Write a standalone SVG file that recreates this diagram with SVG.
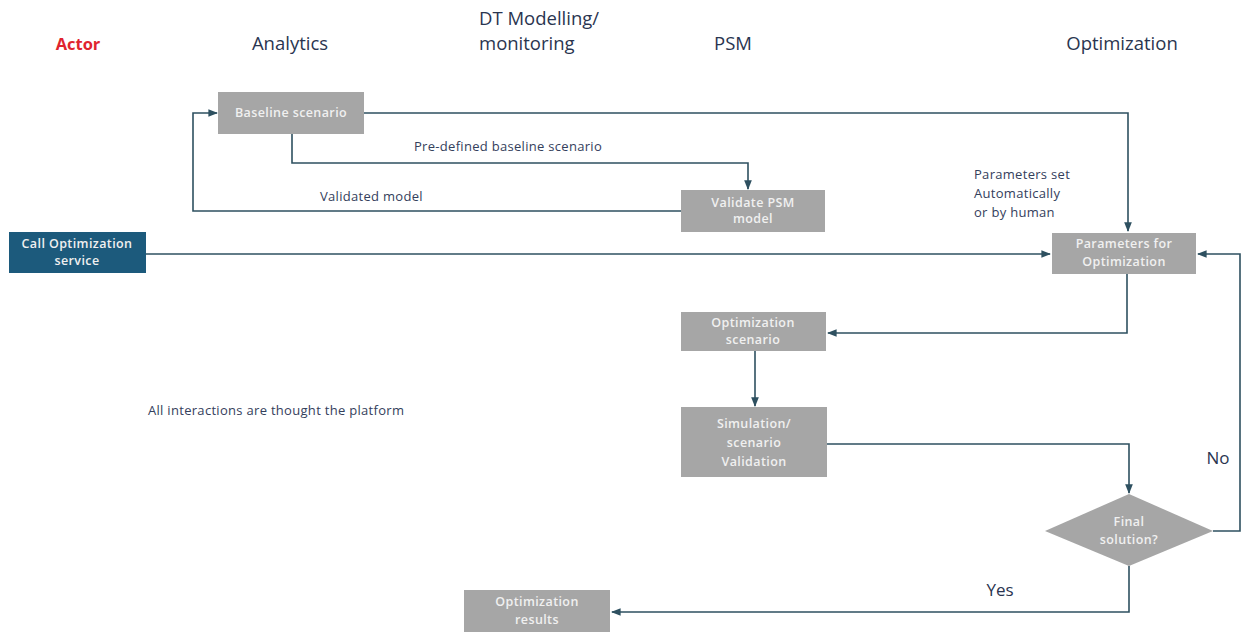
<svg xmlns="http://www.w3.org/2000/svg" width="1244" height="632" viewBox="0 0 1244 632">
  <style>
    .head { font-family: "Open Sans", "Liberation Sans", sans-serif; font-size: 18.5px; fill: #2a3550; }
    .actor { font-family: "Open Sans", "Liberation Sans", sans-serif; font-size: 16.5px; font-weight: bold; fill: #e0242e; }
    .box { fill: #a6a6a6; }
    .blue { fill: #1c5a7c; }
    .bt { font-family: "Open Sans", "Liberation Sans", sans-serif; font-size: 12.5px; font-weight: 600; letter-spacing: 0.4px; fill: #f0f0f0; text-anchor: middle; }
    .lbl { font-family: "Open Sans", "Liberation Sans", sans-serif; font-size: 13px; font-weight: 500; letter-spacing: 0.3px; fill: #34405c; }
    .yn { font-family: "Open Sans", "Liberation Sans", sans-serif; font-size: 17px; font-weight: 500; fill: #2a3550; }
    .conn { fill: none; stroke: #2e5060; stroke-width: 1.6; }
  </style>
  <defs>
    <marker id="arr" viewBox="0 0 10 10" refX="9" refY="5" markerWidth="6" markerHeight="6" orient="auto">
      <path d="M0,1 L10,5 L0,9 z" fill="#2e5060"/>
    </marker>
  </defs>
  <rect width="1244" height="632" fill="#ffffff"/>

  <!-- lane headings -->
  <g id="headings">
    <text class="actor" x="78" y="50" text-anchor="middle">Actor</text>
    <text class="head" x="290" y="50" text-anchor="middle">Analytics</text>
    <text class="head" x="479" y="25">DT Modelling/</text>
    <text class="head" x="479" y="50">monitoring</text>
    <text class="head" x="733" y="50" text-anchor="middle">PSM</text>
    <text class="head" x="1122" y="50" text-anchor="middle">Optimization</text>
  </g>

  <!-- connectors -->
  <g id="connectors">
    <polyline class="conn" points="364,113 1128,113 1128,231" marker-end="url(#arr)"/>
    <polyline class="conn" points="292,134 292,163 748,163 748,189" marker-end="url(#arr)"/>
    <polyline class="conn" points="681,211 193,211 193,113 217,113" marker-end="url(#arr)"/>
    <polyline class="conn" points="146,254 1050,254" marker-end="url(#arr)"/>
    <polyline class="conn" points="1127,274 1127,333 828,333" marker-end="url(#arr)"/>
    <polyline class="conn" points="755,351 755,406" marker-end="url(#arr)"/>
    <polyline class="conn" points="827,444 1129,444 1129,493" marker-end="url(#arr)"/>
    <polyline class="conn" points="1213,531 1240,531 1240,254 1198,254" marker-end="url(#arr)"/>
    <polyline class="conn" points="1129,566 1129,612 612,612" marker-end="url(#arr)"/>
    <text class="lbl" x="508" y="151" text-anchor="middle">Pre-defined baseline scenario</text>
    <text class="lbl" x="320" y="201">Validated model</text>
    <text class="lbl" x="974" y="179">Parameters set</text>
    <text class="lbl" x="974" y="198">Automatically</text>
    <text class="lbl" x="974" y="217">or by human</text>
    <text class="yn" x="1218" y="464" text-anchor="middle">No</text>
    <text class="yn" x="1000" y="596" text-anchor="middle">Yes</text>
  </g>

  <g id="baseline">
    <rect class="box" x="218" y="92" width="146" height="42"/>
    <text class="bt" x="291" y="117">Baseline scenario</text>
  </g>

  <g id="validate-psm">
    <rect class="box" x="681" y="190" width="144" height="42"/>
    <text class="bt" x="753" y="207">Validate PSM</text>
    <text class="bt" x="753" y="223">model</text>
  </g>

  <g id="call-optimization">
    <rect class="blue" x="9" y="232" width="137" height="41"/>
    <text class="bt" x="77" y="248">Call Optimization</text>
    <text class="bt" x="77" y="265">service</text>
  </g>

  <g id="parameters">
    <rect class="box" x="1052" y="233" width="144" height="41"/>
    <text class="bt" x="1124" y="248">Parameters for</text>
    <text class="bt" x="1124" y="266">Optimization</text>
  </g>

  <g id="optimization-scenario">
    <rect class="box" x="681" y="312" width="145" height="39"/>
    <text class="bt" x="753" y="327">Optimization</text>
    <text class="bt" x="753" y="344">scenario</text>
  </g>

  <g id="simulation">
    <rect class="box" x="681" y="407" width="146" height="70"/>
    <text class="bt" x="754" y="428">Simulation/</text>
    <text class="bt" x="754" y="447">scenario</text>
    <text class="bt" x="754" y="466">Validation</text>
  </g>

  <g id="final-solution">
    <polygon class="box" points="1129,494 1213,531 1129,566 1045,531"/>
    <text class="bt" x="1129" y="526">Final</text>
    <text class="bt" x="1129" y="544">solution?</text>
  </g>

  <g id="optimization-results">
    <rect class="box" x="464" y="590" width="146" height="46"/>
    <text class="bt" x="537" y="606">Optimization</text>
    <text class="bt" x="537" y="624">results</text>
  </g>

  <g id="note">
    <text class="lbl" x="148" y="415">All interactions are thought the platform</text>
  </g>
</svg>
